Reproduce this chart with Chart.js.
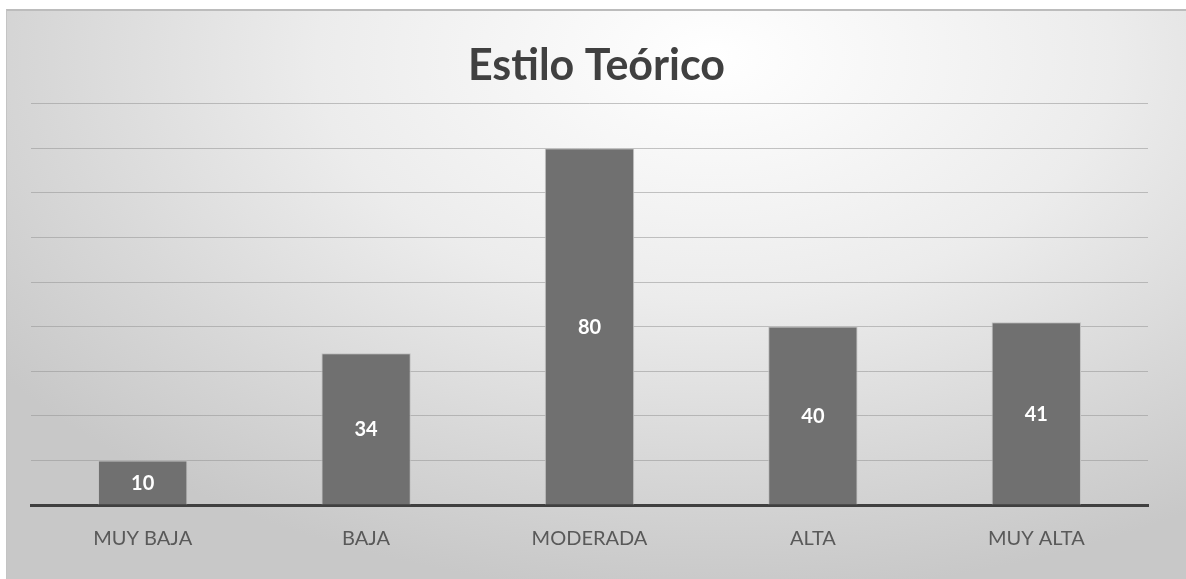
<!DOCTYPE html>
<html><head><meta charset="utf-8">
<script src="https://cdn.jsdelivr.net/npm/chart.js@4.4.0/dist/chart.umd.min.js"></script>
<style>
html,body{margin:0;padding:0;background:#fff;width:1186px;height:579px;overflow:hidden}
#wrap{position:absolute;left:6px;top:9px;width:1180px;height:570px;box-sizing:border-box;border-top:2px solid #bcbcbc;border-left:1px solid #c4c4c4;
background:radial-gradient(ellipse 75% 95% at 60% 8%, #ffffff 0%, #ececec 45%, #d8d8d8 75%, #c8c8c8 100%);}
#c{position:absolute;left:0;top:0}
</style></head><body>
<div id="wrap"><canvas id="c" width="1179" height="568"></canvas></div>
<script>
const categories = ["MUY BAJA","BAJA","MODERADA","ALTA","MUY ALTA"];
const values = [10,34,80,40,41];
const yTicks = [0,10,20,30,40,50,60,70,80,90];

const FONT = "Lato, 'Open Sans', sans-serif";
const centerLabels = {
  id:'centerLabels',
  afterDatasetsDraw(chart){
    const ctx = chart.ctx;
    const meta = chart.getDatasetMeta(0);
    ctx.save();
    ctx.fillStyle = '#ffffff';
    ctx.font = "bold 20px " + FONT;
    ctx.textAlign = 'center';
    ctx.textBaseline = 'middle';
    meta.data.forEach((bar, i) => {
      const mid = (bar.y + bar.base) / 2;
      ctx.fillText(String(values[i]), bar.x, mid + 1);
    });
    ctx.restore();
  }
};

new Chart(document.getElementById('c'), {
  type:'bar',
  data:{labels:categories,datasets:[{data:values,backgroundColor:'#707070',borderColor:'#c2c2c2',borderWidth:1,borderSkipped:'bottom',categoryPercentage:1,barPercentage:0.4}]},
  options:{
    responsive:false,animation:false,
    layout:{padding:{left:0,right:0,top:0,bottom:0}},
    plugins:{
      legend:{display:false},tooltip:{enabled:false},
      title:{display:true,text:'Estilo Teórico',color:'#404040',font:{family:FONT,size:43,weight:'bold'},padding:{top:29,bottom:12}}
    },
    scales:{
      x:{grid:{display:false},border:{display:true,color:'#404040',width:3},
         afterFit(s){s.height=74;},
         ticks:{color:'#595959',font:{family:FONT,size:20},padding:14}},
      y:{min:0,max:90,afterBuildTicks(s){s.ticks=yTicks.map(v=>({value:v}));},
         afterFit(s){s.width=24;},
         ticks:{display:false},border:{display:false},
         grid:{color:'rgba(150,150,150,0.55)',lineWidth:1,drawTicks:false}},
      yRight:{position:'right',display:true,min:0,max:90,
         afterFit(s){s.width=38;},
         ticks:{display:false},border:{display:false},grid:{display:false}}
    }
  },
  plugins:[centerLabels]
});
</script></body></html>
